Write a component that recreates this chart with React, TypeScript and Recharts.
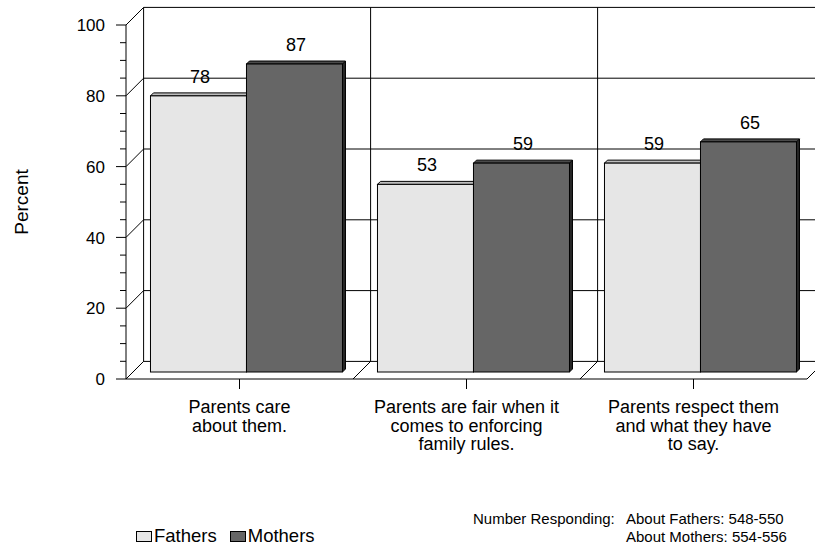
import React from "react";
import {
  BarChart,
  Bar,
  XAxis,
  YAxis,
  CartesianGrid,
  Legend,
  LabelList,
} from "recharts";

const categories = [
  "Parents care about them.",
  "Parents are fair when it comes to enforcing family rules.",
  "Parents respect them and what they have to say.",
];

const categoryLines = [
  ["Parents care", "about them."],
  ["Parents are fair when it", "comes to enforcing", "family rules."],
  ["Parents respect them", "and what they have", "to say."],
];

const fathers = [78, 53, 59];
const mothers = [87, 59, 65];

const yTicks = [0, 5, 10, 15, 20, 25, 30, 35, 40, 45, 50, 55, 60, 65, 70, 75, 80, 85, 90, 95, 100];
const gridValues = [0, 20, 40, 60, 80, 100];

const noteLines = [
  ["Number Responding:", "About Fathers: 548-550"],
  ["", "About Mothers: 554-556"],
];

const data = categories.map((topic, i) => ({
  topic,
  fathers: fathers[i],
  mothers: mothers[i],
}));

const W = 815;
const H = 546;
const LEFT = 126;
const RIGHT = 8;
const TOP = 25;
const AXIS_H = 167;
const WALL = 17.6; // depth of floor and side wall
const SHIFT = 7; // bars stand this far behind the front plane
const BAR_D = 3; // bar thickness
const BAND = (W - LEFT - RIGHT) / categories.length;
const FONT = '"Liberation Sans", Arial, Helvetica, sans-serif';

function Bar3D(props: any) {
  const { x, y, width, height, fill, topFill, sideFill } = props;
  if (!width || height == null) return null;
  const fx = x + SHIFT;
  const fy = y - SHIFT;
  const top = `${fx},${fy} ${fx + BAR_D},${fy - BAR_D} ${fx + width + BAR_D},${fy - BAR_D} ${fx + width},${fy}`;
  const side = `${fx + width},${fy} ${fx + width + BAR_D},${fy - BAR_D} ${fx + width + BAR_D},${fy + height - BAR_D} ${fx + width},${fy + height}`;
  return (
    <g>
      <polygon points={side} fill={sideFill} stroke="#000" strokeWidth={1} />
      <polygon points={top} fill={topFill} stroke="#000" strokeWidth={1} />
      <rect x={fx} y={fy} width={width} height={height} fill={fill} stroke="#000" strokeWidth={1} />
    </g>
  );
}

function ValueLabel(props: any) {
  const vb = props.viewBox || props;
  const { x, y, width } = vb;
  return (
    <text
      x={x + width / 2 + SHIFT + BAR_D / 2}
      y={y - SHIFT - 13}
      textAnchor="middle"
      fontSize={18}
      fontFamily={FONT}
      fill="#000"
    >
      {props.value}
    </text>
  );
}

// horizontal grid: line across the back wall plus the diagonal on the side wall
function backWallLine(p: any) {
  return (
    <g key={`h-${p.index}`}>
      <line x1={p.x1} y1={p.y1} x2={p.x1 + WALL} y2={p.y1 - WALL} stroke="#000" />
      <line x1={p.x1 + WALL} y1={p.y1 - WALL} x2={p.x2 + WALL} y2={p.y2 - WALL} stroke="#000" />
    </g>
  );
}

// vertical grid: category dividers on the back wall and across the floor
function dividerLine(p: any) {
  const bx = p.x1 - BAND / 2;
  const last = p.index === categories.length - 1;
  return (
    <g key={`v-${p.index}`}>
      <line x1={bx} y1={p.y2} x2={bx + WALL} y2={p.y2 - WALL} stroke="#000" />
      <line x1={bx + WALL} y1={p.y1 - WALL} x2={bx + WALL} y2={p.y2 - WALL} stroke="#000" />
      {last && (
        <line x1={bx + BAND} y1={p.y2} x2={bx + BAND + WALL} y2={p.y2 - WALL} stroke="#000" />
      )}
    </g>
  );
}

function YTick(props: any) {
  const { x, y, payload } = props;
  const major = payload.value % 20 === 0;
  return (
    <g>
      <line x1={x - (major ? 10 : 6)} y1={y} x2={x} y2={y} stroke="#000" />
      {major && (
        <text
          x={x - 21}
          y={y}
          dy="0.36em"
          textAnchor="end"
          fontSize={17}
          fontFamily={FONT}
          fill="#000"
        >
          {payload.value}
        </text>
      )}
    </g>
  );
}

function CategoryTick(props: any) {
  const { x, y, payload } = props;
  const lines = categoryLines[categories.indexOf(payload.value)] || [];
  return (
    <text x={x} y={y} textAnchor="middle" fontSize={18} fontFamily={FONT} fill="#000">
      {lines.map((line, i) => (
        <tspan key={i} x={x} dy={i === 0 ? 22 : 18.5}>
          {line}
        </tspan>
      ))}
    </text>
  );
}

function LegendContent(props: any) {
  const { payload = [] } = props;
  return (
    <div style={{ display: "flex", fontFamily: FONT, fontSize: 18.5, lineHeight: "20px", color: "#000" }}>
      {payload.map((item: any) => (
        <div key={item.value} style={{ display: "flex", alignItems: "center", marginRight: 13 }}>
          <span
            style={{
              display: "inline-block",
              width: 14,
              height: 9,
              background: item.color,
              border: "1px solid #000",
              marginRight: 2,
            }}
          />
          {item.value}
        </div>
      ))}
    </div>
  );
}

export default function App() {
  return (
    <div style={{ position: "absolute", left: 0, top: 0, width: W, height: H, background: "#fff" }}>
      <BarChart
        width={W}
        height={H}
        data={data}
        margin={{ top: TOP, right: RIGHT, left: 0, bottom: 0 }}
        barCategoryGap="7.7%"
        barGap={0}
      >
        <CartesianGrid
          syncWithTicks
          horizontalValues={gridValues}
          horizontal={backWallLine}
          vertical={dividerLine}
          stroke="#000"
        />
        <XAxis
          dataKey="topic"
          height={AXIS_H}
          interval={0}
          axisLine={{ stroke: "#000" }}
          tickLine={{ stroke: "#000" }}
          tickSize={10}
          tickMargin={2}
          tick={<CategoryTick />}
        />
        <YAxis
          width={LEFT}
          domain={[0, 100]}
          ticks={yTicks}
          interval={0}
          axisLine={{ stroke: "#000" }}
          tickLine={false}
          tickSize={0}
          tickMargin={0}
          tick={<YTick />}
          label={{
            value: "Percent",
            angle: -90,
            position: "center",
            dx: -42,
            fontSize: 19,
            fontFamily: FONT,
            fill: "#000",
          }}
        />
        <Legend
          layout="horizontal"
          verticalAlign="middle"
          align="center"
          content={<LegendContent />}
          wrapperStyle={{ position: "absolute", left: 136, top: 526, width: "auto" }}
        />
        <Bar
          dataKey="fathers"
          name="Fathers"
          fill="#e6e6e6"
          isAnimationActive={false}
          shape={(p: any) => <Bar3D {...p} topFill="#bdbdbd" sideFill="#8c8c8c" />}
        >
          <LabelList dataKey="fathers" content={<ValueLabel />} />
        </Bar>
        <Bar
          dataKey="mothers"
          name="Mothers"
          fill="#666666"
          isAnimationActive={false}
          shape={(p: any) => <Bar3D {...p} topFill="#4a4a4a" sideFill="#262626" />}
        >
          <LabelList dataKey="mothers" content={<ValueLabel />} />
        </Bar>
      </BarChart>
      <div
        style={{
          position: "absolute",
          left: 473,
          top: 510,
          fontFamily: FONT,
          fontSize: 15,
          lineHeight: "18px",
          color: "#000",
          display: "grid",
          gridTemplateColumns: "153px auto",
          whiteSpace: "nowrap",
        }}
      >
        {noteLines.map((row, i) => (
          <React.Fragment key={i}>
            <span>{row[0]}</span>
            <span>{row[1]}</span>
          </React.Fragment>
        ))}
      </div>
    </div>
  );
}
